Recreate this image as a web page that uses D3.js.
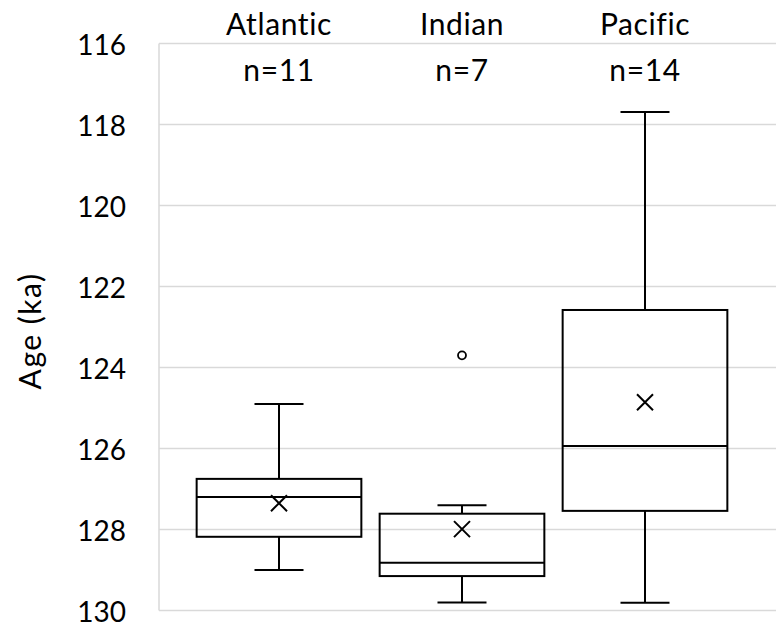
<!DOCTYPE html>
<html lang="en">
<head>
  <meta charset="UTF-8" />
  <title>Age box plot</title>
  <script src="https://cdn.jsdelivr.net/npm/d3@7"></script>
  <style>
    body {
      margin: 0;
      background-color: white;
      font-family: Lato, "Open Sans", sans-serif;
    }

    svg text {
      fill: #000;
    }

    .grid line {
      stroke: #d9d9d9;
      stroke-width: 1.5px;
    }

    .box rect, .box line {
      stroke: #000;
      stroke-width: 2px;
      fill: none;
    }
  </style>
</head>
<body>
  <div id="chart"></div>

  <script>
    const width = 776;
    const height = 626;

    // values (ka, axis reversed)
    const oceans = ["Atlantic", "Indian", "Pacific"];
    const counts = [11, 7, 14];
    const whiskerTop = [124.90, 127.40, 117.69];
    const boxTop = [126.75, 127.61, 122.58];
    const medians = [127.20, 128.82, 125.94];
    const boxBottom = [128.18, 129.15, 127.54];
    const whiskerBottom = [129.00, 129.80, 129.81];
    const means = [127.35, 127.99, 124.86];
    const outliers = [[], [123.70], []];
    const yTicks = [116, 118, 120, 122, 124, 126, 128, 130];

    const data = oceans.map((name, i) => ({
      name,
      n: counts[i],
      hi: whiskerTop[i],
      q1: boxTop[i],
      med: medians[i],
      q3: boxBottom[i],
      lo: whiskerBottom[i],
      mean: means[i],
      out: outliers[i]
    }));

    const svg = d3.select("#chart")
      .append("svg")
      .attr("width", width)
      .attr("height", height);

    const left = 159;
    const yScale = d3.scaleLinear()
      .domain([116, 130])
      .range([43.5, 610.5]);

    const xScale = d3.scaleBand()
      .domain(oceans)
      .range([187.5, 736.5])
      .paddingInner(0.1)
      .paddingOuter(0.05);

    // gridlines
    svg.append("g")
      .attr("class", "grid")
      .selectAll("line")
      .data(yTicks)
      .enter()
      .append("line")
      .attr("x1", left)
      .attr("x2", width)
      .attr("y1", d => yScale(d))
      .attr("y2", d => yScale(d));

    svg.append("line")
      .attr("x1", left).attr("x2", left)
      .attr("y1", yScale(116)).attr("y2", yScale(130))
      .attr("stroke", "#d9d9d9")
      .attr("stroke-width", 1.5);

    // y axis labels
    const yAxis = d3.axisLeft(yScale)
      .tickValues(yTicks)
      .tickSize(0)
      .tickPadding(33);

    const yg = svg.append("g")
      .attr("transform", `translate(${left}, 0)`)
      .call(yAxis);
    yg.select(".domain").remove();
    yg.selectAll("text")
      .attr("font-family", "Lato, sans-serif")
      .attr("font-size", 28)
      .attr("dy", "0.4em")
      .attr("fill", "#000");

    svg.append("text")
      .attr("transform", `translate(41, ${(yScale(116) + yScale(130)) / 2 + 4}) rotate(-90)`)
      .attr("text-anchor", "middle")
      .attr("font-size", 30)
      .attr("letter-spacing", 1.5)
      .text("Age (ka)");

    // category labels
    svg.selectAll(".cat")
      .data(data)
      .enter()
      .append("text")
      .attr("class", "cat")
      .attr("x", d => xScale(d.name) + xScale.bandwidth() / 2)
      .attr("y", 35)
      .attr("text-anchor", "middle")
      .attr("font-size", 30)
      .attr("letter-spacing", 0.6)
      .text(d => d.name);

    svg.selectAll(".count")
      .data(data)
      .enter()
      .append("text")
      .attr("class", "count")
      .attr("x", d => xScale(d.name) + xScale.bandwidth() / 2)
      .attr("y", 81)
      .attr("text-anchor", "middle")
      .attr("font-size", 30)
      .attr("letter-spacing", 0.6)
      .text(d => "n=" + d.n);

    // boxes
    const capW = 49;
    const boxes = svg.selectAll(".box")
      .data(data)
      .enter()
      .append("g")
      .attr("class", "box")
      .attr("transform", d => `translate(${xScale(d.name) + xScale.bandwidth() / 2}, 0)`);

    const bw = xScale.bandwidth();

    boxes.append("line")
      .attr("x1", 0).attr("x2", 0)
      .attr("y1", d => yScale(d.hi)).attr("y2", d => yScale(d.q1));
    boxes.append("line")
      .attr("x1", 0).attr("x2", 0)
      .attr("y1", d => yScale(d.q3)).attr("y2", d => yScale(d.lo));
    boxes.append("line")
      .attr("x1", -capW / 2).attr("x2", capW / 2)
      .attr("y1", d => yScale(d.hi)).attr("y2", d => yScale(d.hi));
    boxes.append("line")
      .attr("x1", -capW / 2).attr("x2", capW / 2)
      .attr("y1", d => yScale(d.lo)).attr("y2", d => yScale(d.lo));
    boxes.append("rect")
      .attr("x", -bw / 2)
      .attr("width", bw)
      .attr("y", d => yScale(d.q1))
      .attr("height", d => yScale(d.q3) - yScale(d.q1));
    boxes.append("line")
      .attr("x1", -bw / 2).attr("x2", bw / 2)
      .attr("y1", d => yScale(d.med)).attr("y2", d => yScale(d.med));

    // mean markers
    const m = 8;
    boxes.append("path")
      .attr("d", d => {
        const y = yScale(d.mean);
        return `M${-m},${y - m}L${m},${y + m}M${-m},${y + m}L${m},${y - m}`;
      })
      .attr("stroke", "#000")
      .attr("stroke-width", 2)
      .attr("fill", "none");

    // outliers
    boxes.selectAll(".outlier")
      .data(d => d.out)
      .enter()
      .append("circle")
      .attr("class", "outlier")
      .attr("cx", 0)
      .attr("cy", d => yScale(d))
      .attr("r", 4)
      .attr("fill", "none")
      .attr("stroke", "#000")
      .attr("stroke-width", 1.8);
  </script>
</body>
</html>
